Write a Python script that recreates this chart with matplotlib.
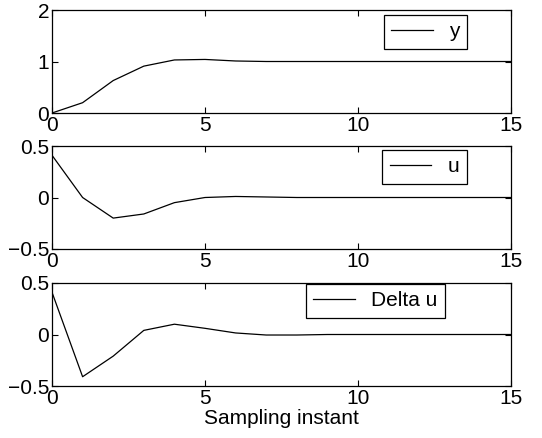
import matplotlib.pyplot as plt

plt.rcParams["font.family"] = ["Liberation Sans", "DejaVu Sans"]

k = list(range(16))
y = [0, 0.2, 0.63, 0.91, 1.03, 1.04, 1.01, 1.0, 1.0, 1.0, 1.0, 1.0, 1.0, 1.0, 1.0, 1.0]
u = [0.41, 0.0, -0.2, -0.16, -0.05, 0.0, 0.01, 0.005, 0.0, 0.0, 0.0, 0.0, 0.0, 0.0, 0.0, 0.0]
du = [0.41, -0.41, -0.21, 0.04, 0.1, 0.06, 0.015, -0.005, -0.005, 0.0, 0.0, 0.0, 0.0, 0.0, 0.0, 0.0]

W, H = 542, 438
fig = plt.figure(figsize=(W / 100, H / 100), dpi=100)

# axes boxes in pixels: left, top, right, bottom
boxes = [(52, 10, 511, 113), (52, 146, 511, 249), (52, 283, 511, 386)]
series = [(y, "y", (0, 2), [0, 1, 2], (467, 15)),
          (u, "u", (-0.5, 0.5), [-0.5, 0, 0.5], (467, 150)),
          (du, "Delta u", (-0.5, 0.5), [-0.5, 0, 0.5], (445, 284))]

for (l, t, r, b), (vals, name, ylim, yt, (lx, ly)) in zip(boxes, series):
    ax = fig.add_axes([l / W, 1 - b / H, (r - l) / W, (b - t) / H])
    ax.plot(k, vals, color="black", linewidth=0.9, label=name)
    ax.set_xlim(0, 15)
    ax.set_ylim(*ylim)
    ax.set_xticks([0, 5, 10, 15])
    ax.set_yticks(yt)
    ax.set_yticklabels(["\u22120.5" if v == -0.5 else f"{v:g}" for v in yt])
    ax.tick_params(direction="in", top=True, right=True, labelsize=15, length=4, pad=2)
    for s in ax.spines.values():
        s.set_linewidth(0.9)
    leg = ax.legend(loc="upper right", bbox_to_anchor=(lx / W, 1 - ly / H),
                    bbox_transform=fig.transFigure, fontsize=15, fancybox=False,
                    framealpha=1, edgecolor="black", handlelength=2.0,
                    borderpad=0.35, handletextpad=0.8, borderaxespad=0)
    leg.get_frame().set_linewidth(0.9)
    if name == "Delta u":
        ax.set_xlabel("Sampling instant", fontsize=15, labelpad=1)

fig.savefig("out.png", dpi=100)
